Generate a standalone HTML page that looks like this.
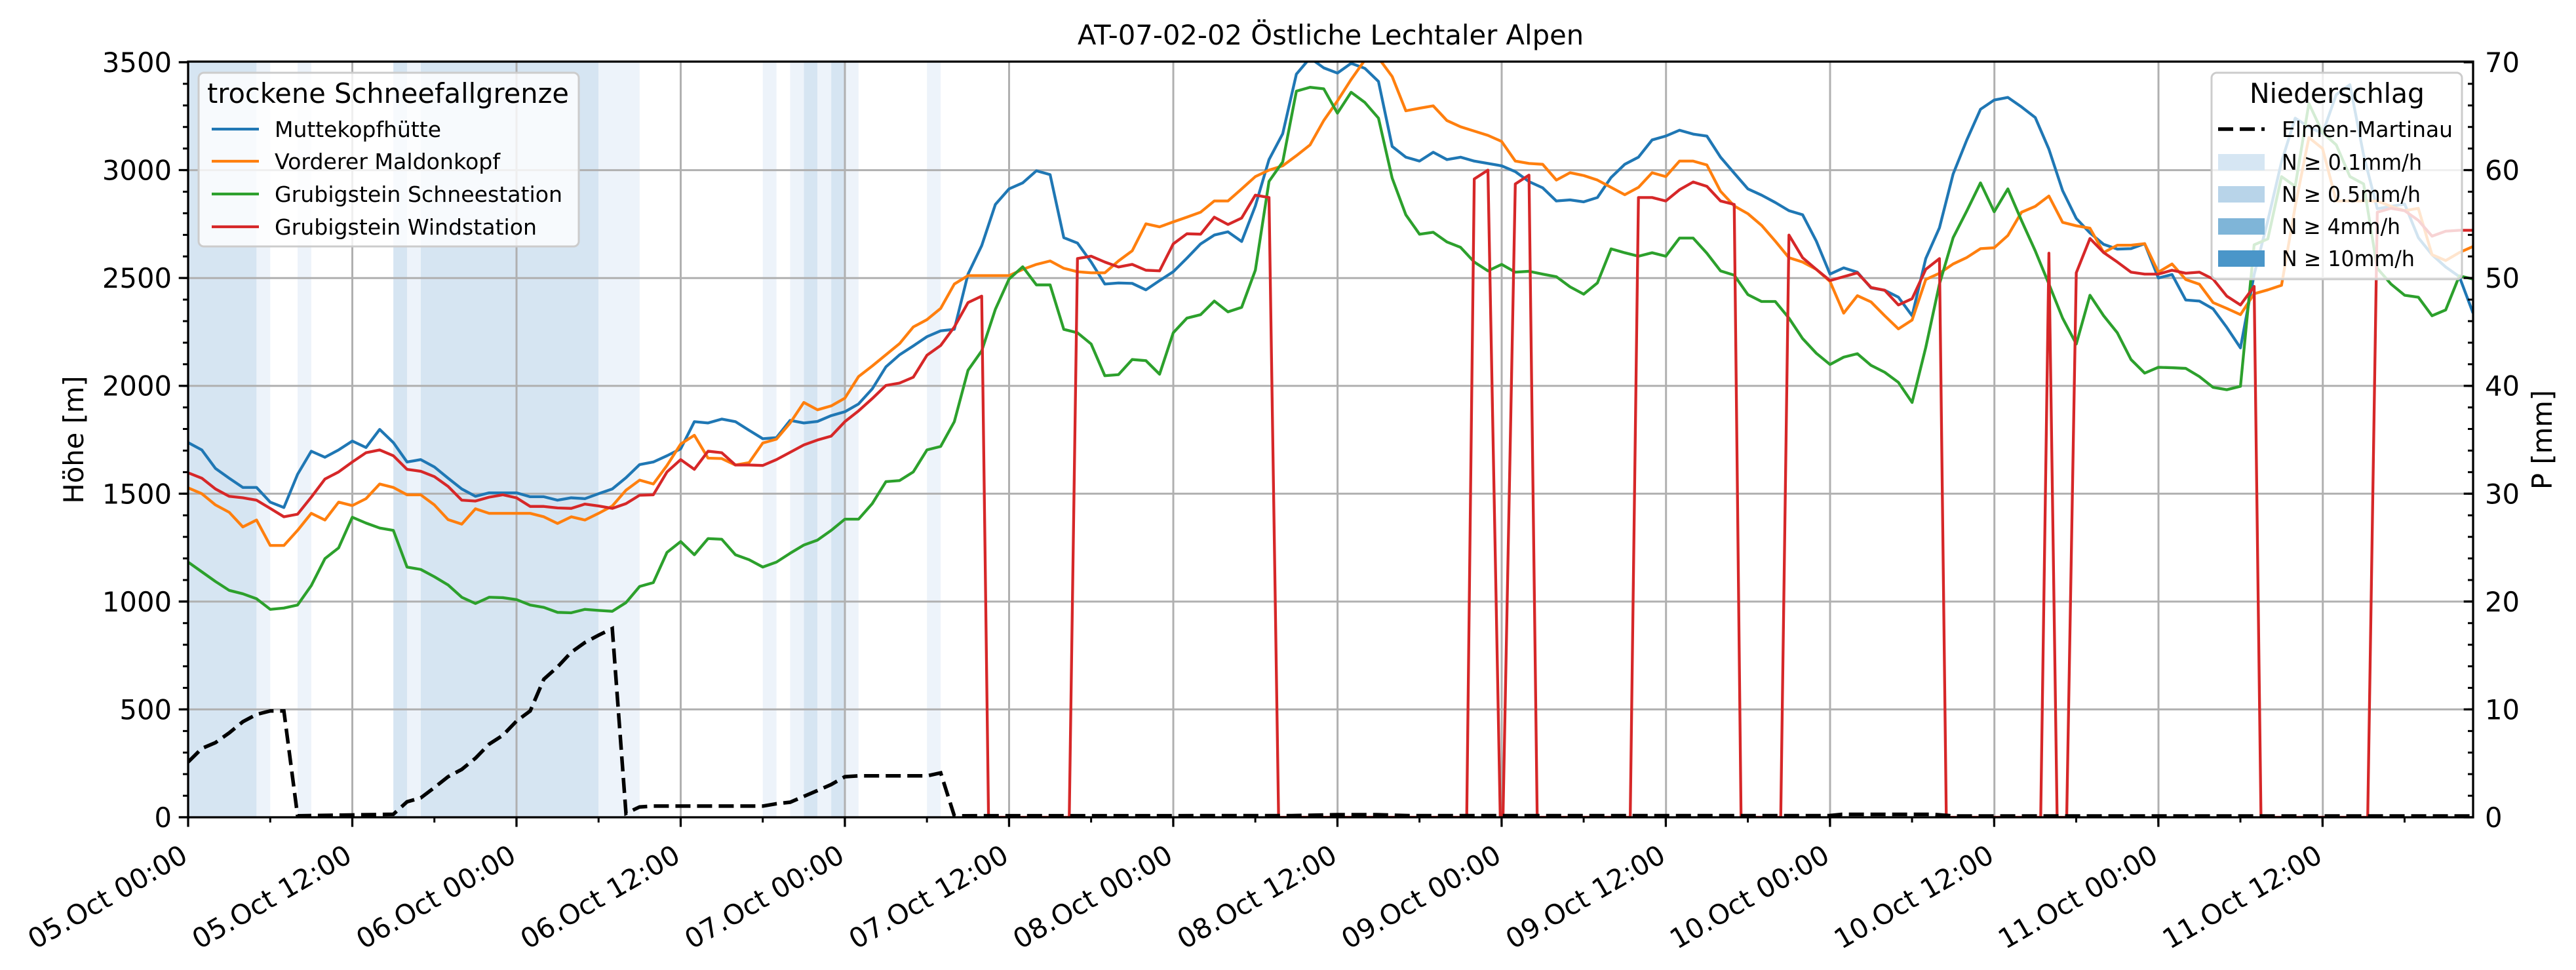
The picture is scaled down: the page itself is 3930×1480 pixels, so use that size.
<!DOCTYPE html>
<html><head><meta charset="utf-8"><style>
html,body{margin:0;padding:0;background:#fff;}
svg{display:block;font-family:"DejaVu Sans","Liberation Sans",sans-serif;}
</style></head><body>
<svg width="3930" height="1480" viewBox="0 0 3930 1480" xmlns="http://www.w3.org/2000/svg">
<defs><clipPath id="pc"><rect x="287" y="94" width="3486" height="1153"/></clipPath></defs>
<rect width="3930" height="1480" fill="#fff"/>
<g transform="translate(287,0) scale(20.874,1)">
<g fill="#d6e5f2">
<rect x="0" y="94" width="5" height="1153"/><rect x="15" y="94" width="1" height="1153"/><rect x="17" y="94" width="13" height="1153"/><rect x="45" y="94" width="1" height="1153"/><rect x="47" y="94" width="1" height="1153"/>
</g>
<g fill="#edf3fa">
<rect x="5" y="94" width="1" height="1153"/><rect x="8" y="94" width="1" height="1153"/><rect x="16" y="94" width="1" height="1153"/><rect x="30" y="94" width="3" height="1153"/><rect x="42" y="94" width="1" height="1153"/><rect x="44" y="94" width="1" height="1153"/><rect x="46" y="94" width="1" height="1153"/><rect x="48" y="94" width="1" height="1153"/><rect x="54" y="94" width="1" height="1153"/>
</g></g>
<g stroke="#b0b0b0" stroke-width="3">
<line x1="287" x2="3773" y1="1082.4" y2="1082.4"/><line x1="287" x2="3773" y1="917.9" y2="917.9"/><line x1="287" x2="3773" y1="753.3" y2="753.3"/><line x1="287" x2="3773" y1="588.7" y2="588.7"/><line x1="287" x2="3773" y1="424.2" y2="424.2"/><line x1="287" x2="3773" y1="259.6" y2="259.6"/>
<line y1="94" y2="1247" x1="537.5" x2="537.5"/><line y1="94" y2="1247" x1="788" x2="788"/><line y1="94" y2="1247" x1="1038.5" x2="1038.5"/><line y1="94" y2="1247" x1="1289" x2="1289"/><line y1="94" y2="1247" x1="1539.5" x2="1539.5"/><line y1="94" y2="1247" x1="1790" x2="1790"/><line y1="94" y2="1247" x1="2040.6" x2="2040.6"/><line y1="94" y2="1247" x1="2291" x2="2291"/><line y1="94" y2="1247" x1="2541.7" x2="2541.7"/><line y1="94" y2="1247" x1="2792" x2="2792"/><line y1="94" y2="1247" x1="3042.7" x2="3042.7"/><line y1="94" y2="1247" x1="3293" x2="3293"/><line y1="94" y2="1247" x1="3543.7" x2="3543.7"/>
</g>
<g clip-path="url(#pc)">
<g transform="translate(287,1247) scale(20.874,-0.32914)" fill="none" stroke-width="4.3" stroke-linejoin="round">
<polyline vector-effect="non-scaling-stroke" stroke="#1f77b4" points="0,1737 1,1703 2,1617 3,1572 4,1529 5,1529 6,1461 7,1436 8,1590 9,1697 10,1669 11,1703 12,1744 13,1714 14,1798 15,1737 16,1647 17,1658 18,1624 19,1572 20,1522 21,1488 22,1504 23,1504 24,1504 25,1486 26,1486 27,1470 28,1481 29,1477 30,1500 31,1522 32,1574 33,1635 34,1647 35,1676 36,1708 37,1834 38,1828 39,1846 40,1834 41,1794 42,1755 43,1760 44,1840 45,1828 46,1835 47,1862 48,1880 49,1916 50,1986 51,2088 52,2144 53,2185 54,2228 55,2255 56,2262 57,2518 58,2650 59,2841 60,2913 61,2941 62,2997 63,2979 64,2687 65,2662 66,2574 67,2472 68,2477 69,2475 70,2445 71,2488 72,2529 73,2592 74,2658 75,2699 76,2714 77,2669 78,2834 79,3049 80,3169 81,3445 82,3520 83,3474 84,3450 85,3495 86,3472 87,3411 88,3110 89,3060 90,3042 91,3083 92,3049 93,3060 94,3042 95,3031 96,3020 97,2993 98,2947 99,2918 100,2857 101,2862 102,2853 103,2873 104,2966 105,3027 106,3060 107,3140 108,3158 109,3185 110,3167 111,3158 112,3060 113,2986 114,2913 115,2884 116,2850 117,2812 118,2793 119,2671 120,2518 121,2547 122,2527 123,2454 124,2443 125,2411 126,2325 127,2590 128,2733 129,2982 130,3140 131,3282 132,3325 133,3337 134,3293 135,3244 136,3097 137,2905 138,2776 139,2709 140,2656 141,2634 142,2636 143,2659 144,2500 145,2516 146,2398 147,2393 148,2357 149,2271 150,2176 151,2516 152,2766 153,3038 154,3241 155,3200 156,3170 157,3350 158,3396 159,3070 160,2821 161,2832 162,2843 163,2687 164,2608 165,2551 166,2506 167,2337"/>
<polyline vector-effect="non-scaling-stroke" stroke="#ff7f0e" points="0,1527 1,1500 2,1448 3,1414 4,1346 5,1378 6,1260 7,1260 8,1330 9,1409 10,1378 11,1461 12,1445 13,1477 14,1545 15,1529 16,1495 17,1495 18,1448 19,1380 20,1359 21,1430 22,1409 23,1409 24,1409 25,1409 26,1393 27,1362 28,1393 29,1378 30,1409 31,1443 32,1516 33,1563 34,1545 35,1631 36,1730 37,1771 38,1665 39,1663 40,1633 41,1644 42,1735 43,1753 44,1828 45,1923 46,1889 47,1907 48,1943 49,2043 50,2092 51,2144 52,2196 53,2273 54,2307 55,2359 56,2472 57,2511 58,2511 59,2511 60,2511 61,2540 62,2563 63,2579 64,2545 65,2529 66,2524 67,2524 68,2579 69,2626 70,2751 71,2737 72,2760 73,2782 74,2805 75,2857 76,2857 77,2913 78,2970 79,3000 80,3020 81,3067 82,3117 83,3230 84,3321 85,3420 86,3510 87,3520 88,3434 89,3275 90,3287 91,3298 92,3230 93,3201 94,3181 95,3161 96,3133 97,3042 98,3031 99,3027 100,2954 101,2988 102,2975 103,2954 104,2920 105,2886 106,2920 107,2988 108,2970 109,3042 110,3042 111,3024 112,2902 113,2834 114,2798 115,2744 116,2671 117,2594 118,2574 119,2540 120,2484 121,2337 122,2418 123,2389 124,2325 125,2264 126,2305 127,2493 128,2522 129,2565 130,2595 131,2636 132,2640 133,2697 134,2805 135,2832 136,2880 137,2758 138,2742 139,2731 140,2618 141,2652 142,2652 143,2659 144,2527 145,2565 146,2493 147,2471 148,2386 149,2359 150,2330 151,2427 152,2445 153,2466 154,2832 155,3151 156,3100 157,2857 158,2857 159,2857 160,2857 161,2832 162,2812 163,2823 164,2608 165,2581 166,2618 167,2646"/>
<polyline vector-effect="non-scaling-stroke" stroke="#2ca02c" points="0,1183 1,1138 2,1093 3,1052 4,1036 5,1013 6,964 7,970 8,984 9,1074 10,1199 11,1249 12,1391 13,1364 14,1341 15,1330 16,1160 17,1149 18,1115 19,1077 20,1020 21,991 22,1020 23,1018 24,1009 25,984 26,973 27,950 28,948 29,964 30,959 31,955 32,995 33,1070 34,1088 35,1228 36,1278 37,1217 38,1292 39,1289 40,1217 41,1194 42,1160 43,1183 44,1224 45,1262 46,1285 47,1330 48,1382 49,1382 50,1454 51,1556 52,1561 53,1601 54,1703 55,1719 56,1834 57,2072 58,2162 59,2355 60,2495 61,2552 62,2468 63,2468 64,2262 65,2246 66,2194 67,2047 68,2052 69,2122 70,2117 71,2054 72,2246 73,2314 74,2330 75,2393 76,2343 77,2364 78,2536 79,2948 80,3038 81,3366 82,3384 83,3377 84,3264 85,3361 86,3314 87,3241 88,2963 89,2793 90,2703 91,2712 92,2667 93,2642 94,2574 95,2533 96,2563 97,2527 98,2531 99,2518 100,2506 101,2459 102,2425 103,2477 104,2635 105,2617 106,2601 107,2617 108,2601 109,2685 110,2685 111,2615 112,2533 113,2513 114,2423 115,2391 116,2391 117,2314 118,2219 119,2151 120,2099 121,2133 122,2149 123,2095 124,2063 125,2016 126,1923 127,2178 128,2472 129,2687 130,2811 131,2941 132,2807 133,2913 134,2766 135,2626 136,2472 137,2314 138,2194 139,2420 140,2325 141,2246 142,2122 143,2059 144,2086 145,2084 146,2081 147,2043 148,1993 149,1982 150,1998 151,2654 152,2681 153,2970 154,2925 155,3309 156,3174 157,3117 158,2970 159,2936 160,2545 161,2472 162,2420 163,2411 164,2325 165,2352 166,2510 167,2495"/>
<polyline vector-effect="non-scaling-stroke" stroke="#d62728" points="0,1597 1,1572 2,1522 3,1488 4,1481 5,1470 6,1432 7,1393 8,1405 9,1484 10,1568 11,1601 12,1647 13,1690 14,1703 15,1676 16,1613 17,1604 18,1579 19,1534 20,1470 21,1466 22,1484 23,1495 24,1481 25,1441 26,1441 27,1434 28,1432 29,1452 30,1443 31,1432 32,1454 33,1493 34,1495 35,1601 36,1658 37,1613 38,1697 39,1690 40,1633 41,1633 42,1631 43,1658 44,1692 45,1726 46,1749 47,1767 48,1834 49,1884 50,1941 51,2002 52,2013 53,2040 54,2142 55,2187 56,2273 57,2386 58,2416 58.5,0 64.4,0 65,2590 66,2601 67,2574 68,2551 69,2563 70,2536 71,2533 72,2658 73,2705 74,2703 75,2782 76,2748 77,2778 78,2884 79,2873 79.7,0 93.45,0 94,2959 95,3000 95.9,0 96.1,0 97,2936 98,2977 98.6,0 105.4,0 106,2873 107,2873 108,2857 109,2909 110,2945 111,2925 112,2857 113,2841 113.5,0 116.4,0 117,2699 118,2594 119,2540 120,2488 121,2506 122,2524 123,2456 124,2443 125,2375 126,2404 127,2540 128,2590 128.5,0 135.4,0 136,2615 136.6,0 137.3,0 138,2524 139,2683 140,2618 141,2574 142,2527 143,2518 144,2518 145,2536 146,2522 147,2527 148,2495 149,2416 150,2375 151,2461 151.5,0 159.3,0 160,2805 161,2823 162,2812 163,2767 164,2694 165,2717 166,2721 167,2721"/>
</g>
<polyline fill="none" stroke="#000" stroke-width="5.5" stroke-dasharray="23 10" points="287,1162.7 307.9,1142 328.7,1133.1 349.6,1118.3 370.5,1101.2 391.4,1090 412.2,1084.7 433.1,1084.7 454,1244.7 600.1,1242.4 621,1223.3 641.9,1217.4 662.7,1201.6 683.6,1185.1 704.5,1173.9 725.4,1156.8 746.2,1135.4 767.1,1121.9 788,1100.2 808.9,1084.7 829.7,1036.3 850.6,1017.6 871.5,995.2 892.3,980.4 913.2,969.2 934.1,959 955,1241.1 975.8,1231.2 996.7,1229.9 1163.7,1229.9 1184.6,1226.3 1205.5,1224 1226.3,1215.1 1247.2,1206.2 1268.1,1197 1289,1185.1 1309.8,1183.8 1414.2,1183.8 1435.1,1179.2 1455.9,1244.7 1970,1244.5 2040,1243 2100,1243 2150,1244.5 2790,1244.5 2810,1242.5 2950,1242.5 2980,1245 3773,1245"/>
</g>
<rect x="287" y="94" width="3486" height="1153" fill="none" stroke="#000" stroke-width="3.3"/>
<g stroke="#000">
<line x1="283" y1="1248.5" x2="283" y2="92" stroke-width="8" stroke-dasharray="3 29.914"/>
<line x1="280" y1="1248.6" x2="280" y2="92" stroke-width="14.6" stroke-dasharray="3.3 161.27"/>
<line x1="3769" y1="1248.5" x2="3769" y2="92" stroke-width="8" stroke-dasharray="3 29.914"/>
<line x1="3766" y1="1248.6" x2="3766" y2="92" stroke-width="14.6" stroke-dasharray="3.3 161.27"/>
<line x1="285.5" y1="1251" x2="3775" y2="1251" stroke-width="8" stroke-dasharray="3 122.24"/>
<line x1="285.35" y1="1254.3" x2="3775" y2="1254.3" stroke-width="14.6" stroke-dasharray="3.3 247.19"/>
</g>
<g font-size="41.7" fill="#000" text-anchor="end">
<text x="262" y="1262">0</text><text x="262" y="1097.4">500</text><text x="262" y="932.9">1000</text><text x="262" y="768.3">1500</text><text x="262" y="603.7">2000</text><text x="262" y="439.2">2500</text><text x="262" y="274.6">3000</text><text x="262" y="110">3500</text>
</g>
<g font-size="41.7" fill="#000">
<text x="3791" y="1262">0</text><text x="3791" y="1097.4">10</text><text x="3791" y="932.9">20</text><text x="3791" y="768.3">30</text><text x="3791" y="603.7">40</text><text x="3791" y="439.2">50</text><text x="3791" y="274.6">60</text><text x="3791" y="110">70</text>
</g>
<g font-size="41.7" fill="#000" text-anchor="end">
<text transform="translate(289,1313) rotate(-30)" textLength="272" lengthAdjust="spacingAndGlyphs">05.Oct 00:00</text>
<text transform="translate(539.5,1313) rotate(-30)" textLength="272" lengthAdjust="spacingAndGlyphs">05.Oct 12:00</text>
<text transform="translate(790,1313) rotate(-30)" textLength="272" lengthAdjust="spacingAndGlyphs">06.Oct 00:00</text>
<text transform="translate(1040.5,1313) rotate(-30)" textLength="272" lengthAdjust="spacingAndGlyphs">06.Oct 12:00</text>
<text transform="translate(1291,1313) rotate(-30)" textLength="272" lengthAdjust="spacingAndGlyphs">07.Oct 00:00</text>
<text transform="translate(1541.5,1313) rotate(-30)" textLength="272" lengthAdjust="spacingAndGlyphs">07.Oct 12:00</text>
<text transform="translate(1792,1313) rotate(-30)" textLength="272" lengthAdjust="spacingAndGlyphs">08.Oct 00:00</text>
<text transform="translate(2042.6,1313) rotate(-30)" textLength="272" lengthAdjust="spacingAndGlyphs">08.Oct 12:00</text>
<text transform="translate(2293,1313) rotate(-30)" textLength="272" lengthAdjust="spacingAndGlyphs">09.Oct 00:00</text>
<text transform="translate(2543.7,1313) rotate(-30)" textLength="272" lengthAdjust="spacingAndGlyphs">09.Oct 12:00</text>
<text transform="translate(2794,1313) rotate(-30)" textLength="272" lengthAdjust="spacingAndGlyphs">10.Oct 00:00</text>
<text transform="translate(3044.7,1313) rotate(-30)" textLength="272" lengthAdjust="spacingAndGlyphs">10.Oct 12:00</text>
<text transform="translate(3295,1313) rotate(-30)" textLength="272" lengthAdjust="spacingAndGlyphs">11.Oct 00:00</text>
<text transform="translate(3545.7,1313) rotate(-30)" textLength="272" lengthAdjust="spacingAndGlyphs">11.Oct 12:00</text>
</g>
<text x="2030" y="68" font-size="41.7" text-anchor="middle">AT-07-02-02 Östliche Lechtaler Alpen</text>
<text transform="translate(127,671) rotate(-90)" font-size="41.7" text-anchor="middle">Höhe [m]</text>
<text transform="translate(3893,671) rotate(-90)" font-size="41.7" text-anchor="middle">P [mm]</text>
<rect x="303" y="111" width="580" height="265" rx="8" fill="#fff" fill-opacity="0.8" stroke="#cccccc" stroke-width="3"/>
<text x="316" y="157" font-size="41.7" textLength="552" lengthAdjust="spacingAndGlyphs">trockene Schneefallgrenze</text>
<g stroke-width="4.3">
<line x1="323" x2="395" y1="197" y2="197" stroke="#1f77b4"/>
<line x1="323" x2="395" y1="246" y2="246" stroke="#ff7f0e"/>
<line x1="323" x2="395" y1="296" y2="296" stroke="#2ca02c"/>
<line x1="323" x2="395" y1="346" y2="346" stroke="#d62728"/>
</g>
<g font-size="33.3">
<text x="419" y="209" textLength="254" lengthAdjust="spacingAndGlyphs">Muttekopfhütte</text>
<text x="419" y="258" textLength="344" lengthAdjust="spacingAndGlyphs">Vorderer Maldonkopf</text>
<text x="419" y="308" textLength="439" lengthAdjust="spacingAndGlyphs">Grubigstein Schneestation</text>
<text x="419" y="358" textLength="400" lengthAdjust="spacingAndGlyphs">Grubigstein Windstation</text>
</g>
<rect x="3374" y="111" width="382" height="315" rx="8" fill="#fff" fill-opacity="0.8" stroke="#cccccc" stroke-width="3"/>
<text x="3432" y="157" font-size="41.7" textLength="267" lengthAdjust="spacingAndGlyphs">Niederschlag</text>
<line x1="3384" x2="3455" y1="197" y2="197" stroke="#000" stroke-width="5.5" stroke-dasharray="23 10"/>
<rect x="3384" y="235" width="71" height="25" fill="#d6e6f3"/>
<rect x="3384" y="284" width="71" height="25" fill="#b8d4e9"/>
<rect x="3384" y="333" width="71" height="25" fill="#7fb5d8"/>
<rect x="3384" y="382" width="71" height="25" fill="#4a96c9"/>
<g font-size="33.3">
<text x="3481" y="209" textLength="261" lengthAdjust="spacingAndGlyphs">Elmen-Martinau</text>
<text x="3481" y="259" textLength="214" lengthAdjust="spacingAndGlyphs">N ≥ 0.1mm/h</text>
<text x="3481" y="308" textLength="212" lengthAdjust="spacingAndGlyphs">N ≥ 0.5mm/h</text>
<text x="3481" y="357" textLength="181" lengthAdjust="spacingAndGlyphs">N ≥ 4mm/h</text>
<text x="3481" y="406" textLength="203" lengthAdjust="spacingAndGlyphs">N ≥ 10mm/h</text>
</g>
</svg>
</body></html>
